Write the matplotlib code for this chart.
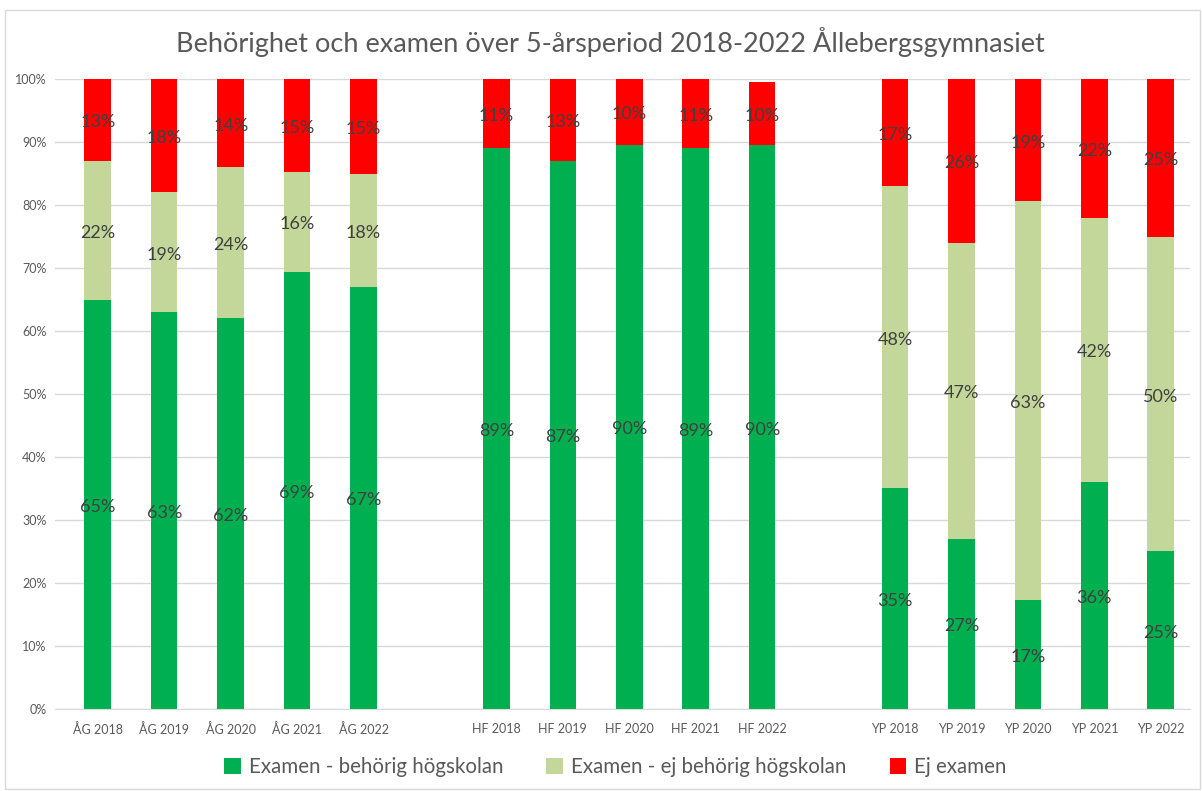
import numpy as np
import matplotlib.pyplot as plt
from matplotlib.patches import Rectangle

plt.rcParams["font.family"] = ["Lato", "DejaVu Sans"]

# category labels, "" marks the empty slot between school programmes
categories = ["ÅG 2018", "ÅG 2019", "ÅG 2020", "ÅG 2021", "ÅG 2022", "",
              "HF 2018", "HF 2019", "HF 2020", "HF 2021", "HF 2022", "",
              "YP 2018", "YP 2019", "YP 2020", "YP 2021", "YP 2022"]

# percent values per series (None = gap slot)
behorig = [65, 63, 62, 69.4, 67, None,
           89, 87, 89.6, 89, 89.5, None,
           35, 27, 17.3, 36, 25]
ej_behorig = [22, 19, 24, 15.9, 18, None,
              0, 0, 0, 0, 0, None,
              48, 47, 63.3, 42, 50]
ej_examen = [13, 18, 14, 14.7, 15, None,
             11, 13, 10.4, 11, 10, None,
             17, 26, 19.4, 22, 25]

series_names = ["Examen - behörig högskolan", "Examen - ej behörig högskolan", "Ej examen"]
colors = ["#00B050", "#C4D79B", "#FF0000"]
title = "Behörighet och examen över 5-årsperiod 2018-2022 Ållebergsgymnasiet"

fig = plt.figure(figsize=(12.02, 7.91), dpi=100)
fig.patches.append(Rectangle((0.004, 0.002), 0.994, 0.985, transform=fig.transFigure,
                             fill=False, edgecolor="#d9d9d9", linewidth=1.0))
ax = fig.add_axes([0.0458, 0.1037, 0.9442, 0.7964])

x = np.arange(len(categories))
idx = [i for i, c in enumerate(categories) if c]
bottom = np.zeros(len(idx))
width = 0.4
for name, vals, col in zip(series_names, [behorig, ej_behorig, ej_examen], colors):
    v = np.array([vals[i] for i in idx], dtype=float)
    bars = ax.bar(x[idx], v, width, bottom=bottom, color=col, label=name, zorder=2)
    for b, val, bot in zip(bars, v, bottom):
        if val > 0:
            ax.text(b.get_x() + b.get_width() / 2, bot + val / 2 - 0.4, f"{round(val):.0f}%",
                    ha="center", va="center", fontsize=13, color="#404040", zorder=3)
    bottom = bottom + v

ax.set_ylim(0, 100)
ax.set_xlim(-0.643, 16.44)
ax.set_yticks(np.arange(0, 101, 10))
ax.set_yticklabels([f"{t}%" for t in range(0, 101, 10)])
ax.set_xticks(x[idx])
ax.set_xticklabels([categories[i] for i in idx])
ax.tick_params(axis="both", length=0, labelsize=9, labelcolor="#595959")
ax.tick_params(axis="x", pad=10)
ax.tick_params(axis="y", pad=6)
ax.grid(axis="y", color="#d9d9d9", linewidth=1, zorder=0)
for s in ["left", "right", "top"]:
    ax.spines[s].set_visible(False)
ax.spines["bottom"].set_color("#d9d9d9")

fig.text(0.508, 0.947, title, ha="center", va="center", fontsize=19.5, color="#595959")
fig.legend(loc="center", bbox_to_anchor=(0.512, 0.030), ncol=3, frameon=False,
           fontsize=14.8, labelcolor="#595959", handlelength=0.8, handleheight=0.8,
           columnspacing=2.1, handletextpad=0.4)

fig.savefig("out.png", dpi=100)
